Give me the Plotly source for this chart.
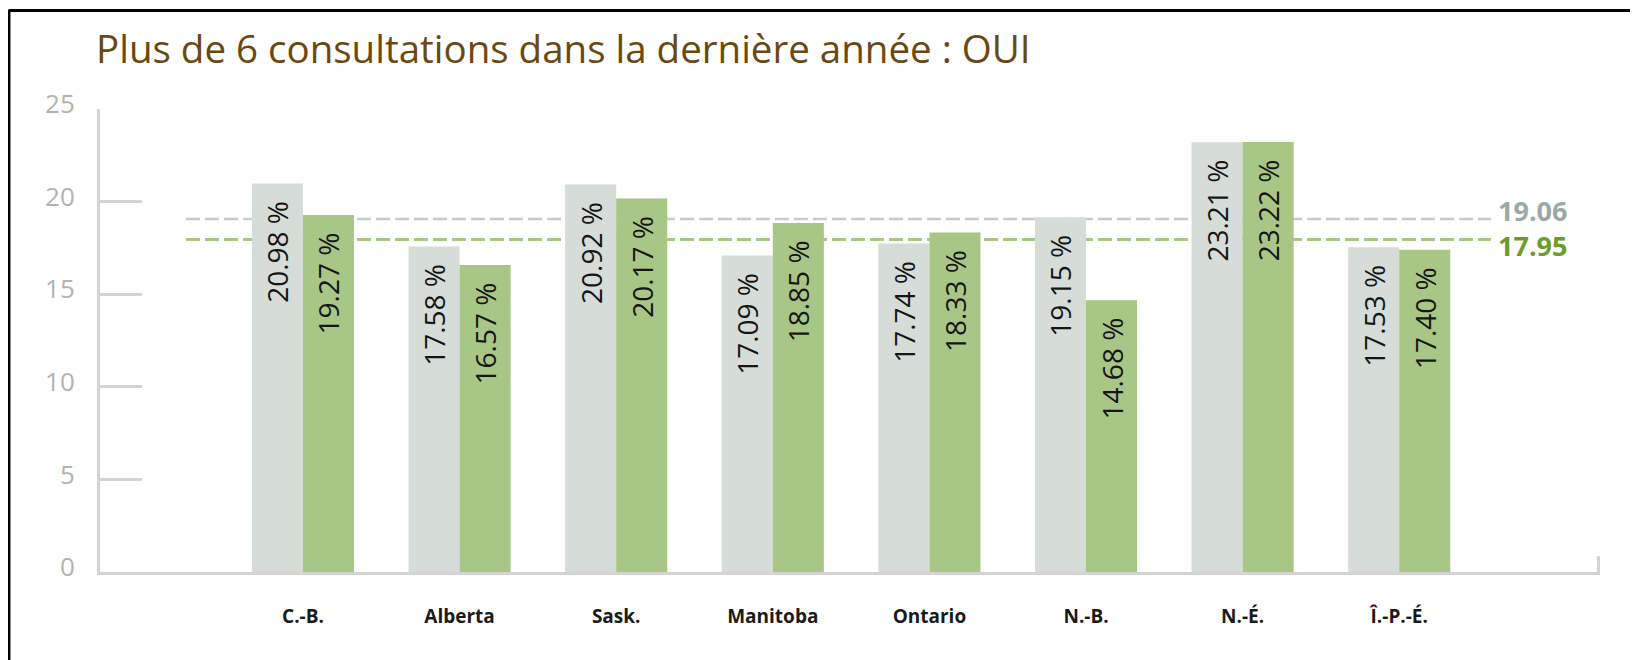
import plotly.graph_objects as go

categories = ["C.-B.", "Alberta", "Sask.", "Manitoba", "Ontario", "N.-B.", "N.-É.", "Î.-P.-É."]
series_a = [20.98, 17.58, 20.92, 17.09, 17.74, 19.15, 23.21, 17.53]
series_b = [19.27, 16.57, 20.17, 18.85, 18.33, 14.68, 23.22, 17.40]
ref_a = 19.06
ref_b = 17.95
y_ticks = [0, 5, 10, 15, 20, 25]
title_text = "Plus de 6 consultations dans la dernière année : OUI"

GREY = "#d6dcd8"
GREEN = "#a8c686"
AXIS = "#d3d3d3"
FONT = "Open Sans"

W, H = 1630, 652  # page body has an 8px margin

def labels(vals):
    return [f"{v:.2f}\u00a0%" + "\u00a0\u00a0" for v in vals]

fig = go.Figure()
for vals, col in ((series_a, GREY), (series_b, GREEN)):
    fig.add_trace(go.Bar(
        x=categories, y=vals, marker=dict(color=col, line=dict(width=0)),
        text=labels(vals), textposition="inside", insidetextanchor="end",
        textangle=-90, constraintext="none",
        textfont=dict(family=FONT, size=28, color="#151515"),
        hoverinfo="skip", showlegend=False,
    ))

x_left = -1.296
x_right = 8.282
line_x0 = -0.747
line_x1 = 7.586

shapes = [
    dict(type="line", xref="x", yref="y", x0=line_x0, x1=line_x1, y0=ref_a, y1=ref_a,
         layer="below", line=dict(color="#c5ccc9", width=2.5, dash="14px,5px")),
    dict(type="line", xref="x", yref="y", x0=line_x0, x1=line_x1, y0=ref_b, y1=ref_b,
         layer="below", line=dict(color=GREEN, width=3, dash="14px,5px")),
    # right end tick of the x axis
    dict(type="line", xref="paper", yref="paper", x0=0.999, x1=0.999, y0=0, y1=0.034,
         line=dict(color=AXIS, width=3)),
    # frame (top and left)
    dict(type="line", xref="paper", yref="paper", x0=-0.0607, x1=1.03, y0=1.2127, y1=1.2127,
         line=dict(color="black", width=3)),
    dict(type="line", xref="paper", yref="paper", x0=-0.0607, x1=-0.0607, y0=1.215, y1=-0.2,
         line=dict(color="black", width=3)),
]

annotations = [
    dict(x=line_x1, y=ref_a, xref="x", yref="y", text=f"<b>{ref_a:.2f}</b>", showarrow=False,
         xanchor="left", yanchor="middle", xshift=5, yshift=9,
         font=dict(family=FONT, size=27, color="#9aa9a6")),
    dict(x=line_x1, y=ref_b, xref="x", yref="y", text=f"<b>{ref_b:.2f}</b>", showarrow=False,
         xanchor="left", yanchor="middle", xshift=5, yshift=-6,
         font=dict(family=FONT, size=27, color="#6a9c2e")),
]

fig.update_layout(
    width=W, height=H,
    margin=dict(l=92, r=38, t=101, b=88),
    paper_bgcolor="white", plot_bgcolor="white",
    barmode="group", bargap=0.348, bargroupgap=0,
    title=dict(text=title_text, x=88 / W, xref="container", xanchor="left",
               y=1 - 42 / H, yref="container", yanchor="middle",
               font=dict(family=FONT, size=38.5, color="#6b4810")),
    shapes=shapes, annotations=annotations,
    xaxis=dict(range=[x_left, x_right], showline=True, linecolor=AXIS, linewidth=3,
               ticks="", showgrid=False, zeroline=False,
               tickfont=dict(family=FONT, size=19, color="#1a1a1a", weight="bold"),
               ticklabelstandoff=25),
    yaxis=dict(range=[0, 25], tickvals=y_ticks, showline=True, linecolor=AXIS, linewidth=3,
               ticks="inside", ticklen=42, tickwidth=3, tickcolor=AXIS,
               showgrid=False, zeroline=False,
               tickfont=dict(family=FONT, size=26, color="#b3b3b3"),
               ticklabelstandoff=17, ticklabelshift=-5),
)

fig.write_html("out.html")
